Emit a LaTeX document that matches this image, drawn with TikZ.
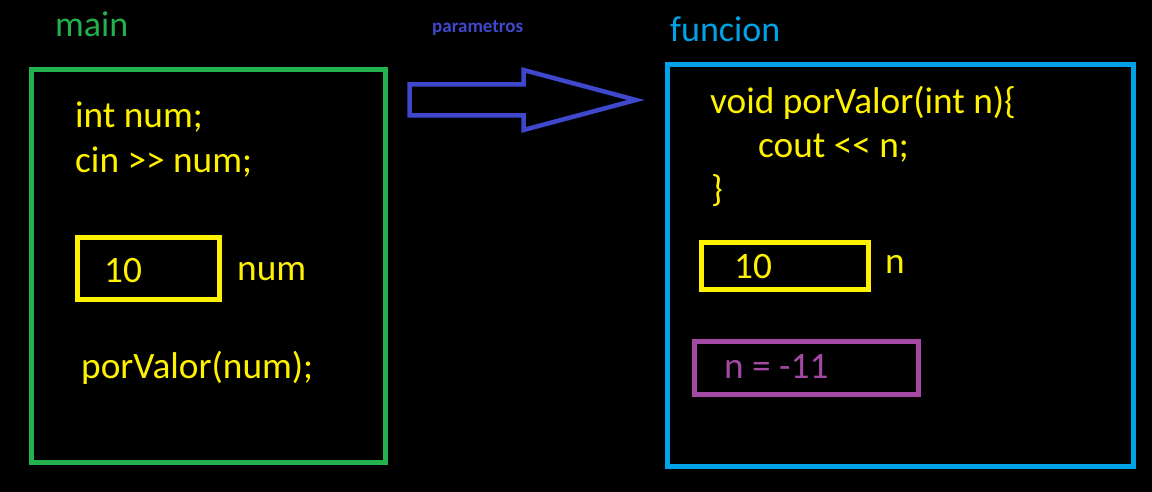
\documentclass[tikz,border=0pt]{standalone}
\usepackage{fontspec}
\setmainfont{Carlito}[Ligatures=NoCommon]
\definecolor{pgreen}{HTML}{22B14C}
\definecolor{pyellow}{HTML}{FFF200}
\definecolor{pindigo}{HTML}{3F48CC}
\definecolor{pcyan}{HTML}{00A2E8}
\definecolor{ppurple}{HTML}{A349A4}
\begin{document}
\begin{tikzpicture}[x=1pt,y=-1pt,
  txt/.style={anchor=base west,inner sep=0pt,font=\fontsize{36}{43}\selectfont},
  code/.style={anchor=base west,inner sep=0pt,font=\fontsize{37.3}{44}\selectfont,text=pyellow},
  frame/.style={draw,line width=5pt},
  varbox/.style={frame,pyellow}]
\fill[black] (0,0) rectangle (1152,492);
\useasboundingbox (0,0) rectangle (1152,492);
% titles
\node[txt,text=pgreen] (tmain) at (55,37) {main};
\node[txt,text=pcyan] (tfun) at (670,42) {funcion};
\node[anchor=base west,inner sep=0pt,text=pindigo,font=\fontsize{19}{23}\selectfont\bfseries] (tpar) at (432,33) {parametros};
% main frame
\draw[frame,pgreen] (31.5,69.5) rectangle (385.5,462.5);
\node[code] (l1) at (75,128) {int num;};
\node[code] (l2) at (75,172) {cin >{}> num;};
\draw[varbox] (77.5,237.5) rectangle (219.5,299.5);
\node[code] (v1) at (104,282) {10};
\node[code] (n1) at (237,280) {num};
\node[code] (call) at (81,378) {porValor(num);};
% arrow
\draw[line width=4.5pt,pindigo,line join=miter] (409.5,84.5) -- (523.5,84.5) -- (523.5,70) -- (636,100) -- (523.5,130) -- (523.5,115.5) -- (409.5,115.5) -- cycle;
% funcion frame
\draw[frame,pcyan] (667.5,64.5) rectangle (1133.5,466.5);
\node[code] (f1) at (710,114) {void porValor(int n)\{};
\node[code] (f2) at (758,158) {cout <{}< n;};
\node[code] (f3) at (711,202) {\}};
\draw[varbox] (701.5,242.5) rectangle (868.5,289.5);
\node[code] (v2) at (734,278) {10};
\node[code] (n2) at (885,273) {n};
\draw[frame,ppurple] (694.5,341.5) rectangle (918.5,394.5);
\node[code,text=ppurple] (asg) at (724,378) {n = -11};
\end{tikzpicture}
\end{document}
